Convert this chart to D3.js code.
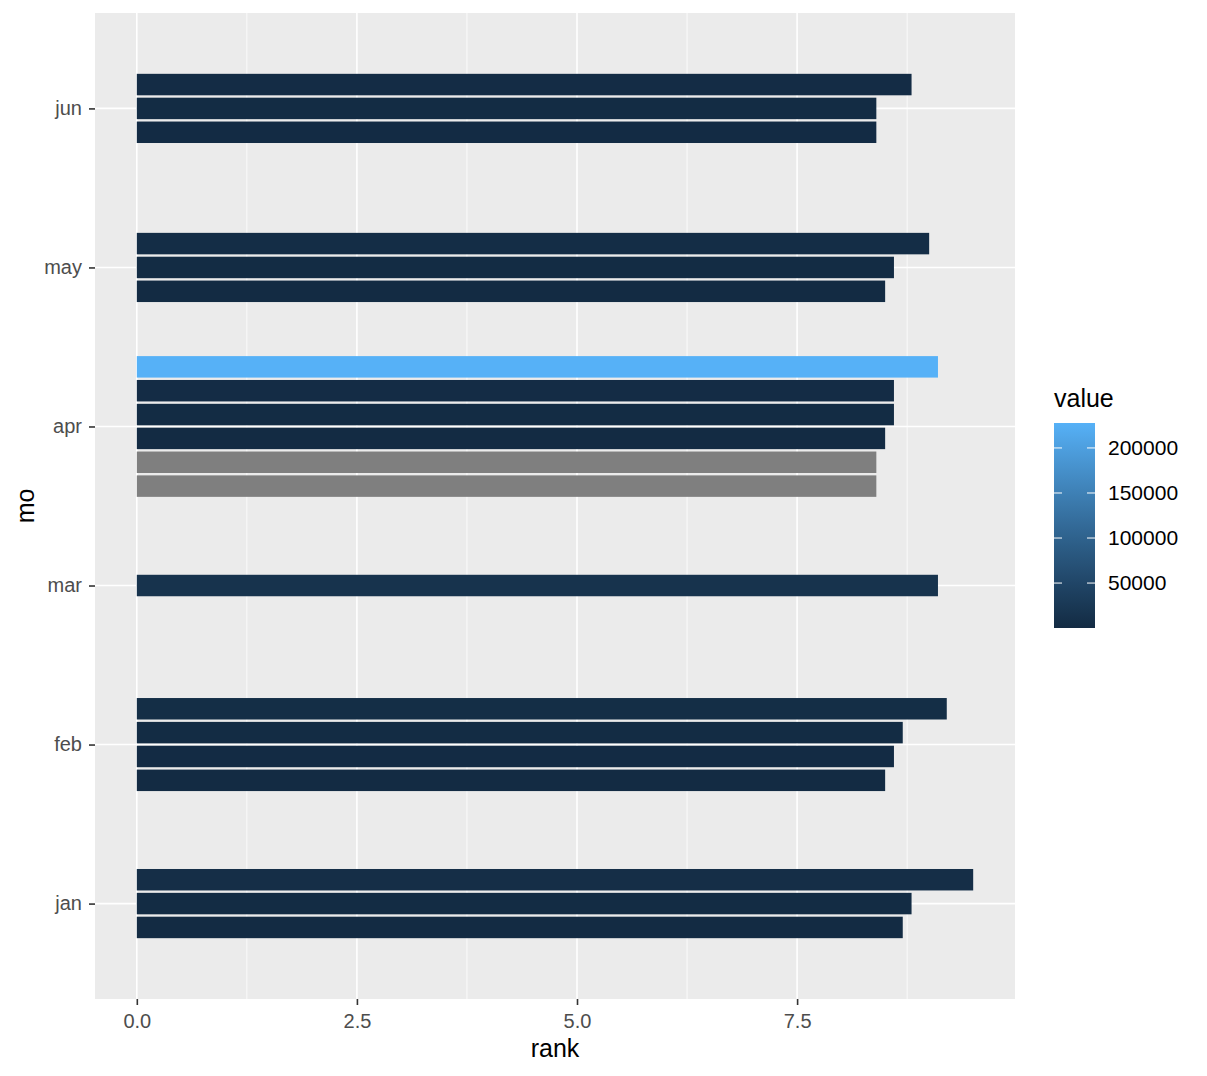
<!DOCTYPE html>
<html>
<head>
<meta charset="utf-8">
<script src="https://cdn.jsdelivr.net/npm/d3@7"></script>
<style>
  body { margin: 0; background: #fff; }
  text { font-family: "Liberation Sans", Arial, sans-serif; }
</style>
</head>
<body>
<svg id="chart" width="1207" height="1076"></svg>
<script>
// months, top to bottom as drawn
var months = ["jun", "may", "apr", "mar", "feb", "jan"];
// rank of each bar per month, listed top to bottom
var ranks = {
  jun: [8.8, 8.4, 8.4],
  may: [9.0, 8.6, 8.5],
  apr: [9.1, 8.6, 8.6, 8.5, 8.4, 8.4],
  mar: [9.1],
  feb: [9.2, 8.7, 8.6, 8.5],
  jan: [9.5, 8.8, 8.7]
};
// fill value of each bar (null = NA, grey)
var values = {
  jun: [3000, 1500, 900],
  may: [4000, 1200, 800],
  apr: [227700, 2500, 1800, 600, null, null],
  mar: [15000],
  feb: [5000, 2000, 1000, 400],
  jan: [6000, 1500, 100]
};
var xTicks = [0, 2.5, 5.0, 7.5];
var legendTicks = [50000, 100000, 150000, 200000];

var svg = d3.select("#chart");
var panel = { left: 95, right: 1015, top: 13, bottom: 999 };

// flatten for convenience
var bars = [];
months.forEach(function(m) {
  ranks[m].forEach(function(r, i) {
    bars.push({ mo: m, idx: i, n: ranks[m].length, rank: r, value: values[m][i] });
  });
});

var maxRank = d3.max(bars, function(d) { return d.rank; });
var pad = maxRank * 0.05;
var x = d3.scaleLinear().domain([0 - pad, maxRank + pad]).range([panel.left, panel.right]);
var y = d3.scalePoint().domain(months).range([panel.top, panel.bottom]).padding(0.6);

var vals = bars.filter(function(d) { return d.value != null; }).map(function(d) { return d.value; });
var color = d3.scaleLinear().domain(d3.extent(vals)).range(["#132B43", "#56B1F7"]).interpolate(d3.interpolateLab);

var maxN = d3.max(months, function(m) { return ranks[m].length; });
var slot = y.step() * 0.9 / maxN;
var barH = slot * 0.9;

// panel background
svg.append("rect")
  .attr("x", panel.left).attr("y", panel.top)
  .attr("width", panel.right - panel.left).attr("height", panel.bottom - panel.top)
  .attr("fill", "#EBEBEB");

// minor grid
var minor = d3.range(xTicks.length - 1).map(function(i) { return (xTicks[i] + xTicks[i + 1]) / 2; });
minor.push(xTicks[xTicks.length - 1] + 1.25);
svg.append("g").selectAll("line").data(minor).enter().append("line")
  .attr("x1", function(d) { return x(d); }).attr("x2", function(d) { return x(d); })
  .attr("y1", panel.top).attr("y2", panel.bottom)
  .attr("stroke", "#fff").attr("stroke-width", 0.8);

// major grid
svg.append("g").selectAll("line").data(xTicks).enter().append("line")
  .attr("x1", function(d) { return x(d); }).attr("x2", function(d) { return x(d); })
  .attr("y1", panel.top).attr("y2", panel.bottom)
  .attr("stroke", "#fff").attr("stroke-width", 1.6);
svg.append("g").selectAll("line").data(months).enter().append("line")
  .attr("x1", panel.left).attr("x2", panel.right)
  .attr("y1", function(d) { return y(d); }).attr("y2", function(d) { return y(d); })
  .attr("stroke", "#fff").attr("stroke-width", 1.6);

// bars
svg.append("g").selectAll("rect").data(bars).enter().append("rect")
  .attr("x", x(0))
  .attr("width", function(d) { return x(d.rank) - x(0); })
  .attr("y", function(d) { return y(d.mo) + (d.idx - (d.n - 1) / 2) * slot - barH / 2; })
  .attr("height", barH)
  .attr("fill", function(d) { return d.value == null ? "#7F7F7F" : color(d.value); });

// x axis
var xAxis = svg.append("g")
  .attr("transform", "translate(0," + panel.bottom + ")")
  .call(d3.axisBottom(x).tickValues(xTicks).tickFormat(d3.format(".1f")).tickSize(6).tickPadding(9));
xAxis.select(".domain").remove();
xAxis.selectAll("line").attr("stroke", "#333").attr("stroke-width", 1.6);
xAxis.selectAll("text").attr("fill", "#4D4D4D").style("font-size", "20px")
  .style("font-family", "Liberation Sans, Arial, sans-serif");

// y axis
var yAxis = svg.append("g")
  .attr("transform", "translate(" + panel.left + ",0)")
  .call(d3.axisLeft(y).tickSize(6).tickPadding(7));
yAxis.select(".domain").remove();
yAxis.selectAll("line").attr("stroke", "#333").attr("stroke-width", 1.6);
yAxis.selectAll("text").attr("fill", "#4D4D4D").style("font-size", "20px")
  .style("font-family", "Liberation Sans, Arial, sans-serif");

// axis titles
svg.append("text")
  .attr("x", (panel.left + panel.right) / 2).attr("y", 1057)
  .attr("text-anchor", "middle").style("font-size", "25px").attr("fill", "#000")
  .text("rank");
svg.append("text")
  .attr("transform", "translate(34," + (panel.top + panel.bottom) / 2 + ") rotate(-90)")
  .attr("text-anchor", "middle").style("font-size", "25px").attr("fill", "#000")
  .text("mo");

// legend
var lg = { x: 1054, y: 423, w: 41, h: 205 };
var grad = svg.append("defs").append("linearGradient")
  .attr("id", "grad").attr("x1", 0).attr("y1", 1).attr("x2", 0).attr("y2", 0);
d3.range(0, 1.0001, 0.1).forEach(function(t) {
  var dom = color.domain();
  grad.append("stop").attr("offset", t).attr("stop-color", color(dom[0] + t * (dom[1] - dom[0])));
});
svg.append("text")
  .attr("x", lg.x).attr("y", 407)
  .style("font-size", "25px").attr("fill", "#000").text("value");
svg.append("rect")
  .attr("x", lg.x).attr("y", lg.y).attr("width", lg.w).attr("height", lg.h)
  .attr("fill", "url(#grad)");
var ly = d3.scaleLinear().domain(color.domain()).range([lg.y + lg.h, lg.y]);
var lt = svg.append("g").selectAll("g").data(legendTicks).enter().append("g");
lt.append("line")
  .attr("x1", lg.x).attr("x2", lg.x + 8)
  .attr("y1", function(d) { return ly(d); }).attr("y2", function(d) { return ly(d); })
  .attr("stroke", "#fff").attr("stroke-width", 1);
lt.append("line")
  .attr("x1", lg.x + lg.w - 8).attr("x2", lg.x + lg.w)
  .attr("y1", function(d) { return ly(d); }).attr("y2", function(d) { return ly(d); })
  .attr("stroke", "#fff").attr("stroke-width", 1);
lt.append("text")
  .attr("x", 1108).attr("y", function(d) { return ly(d); })
  .attr("dy", "0.35em").style("font-size", "21px").attr("fill", "#000")
  .text(function(d) { return d; });
</script>
</body>
</html>
